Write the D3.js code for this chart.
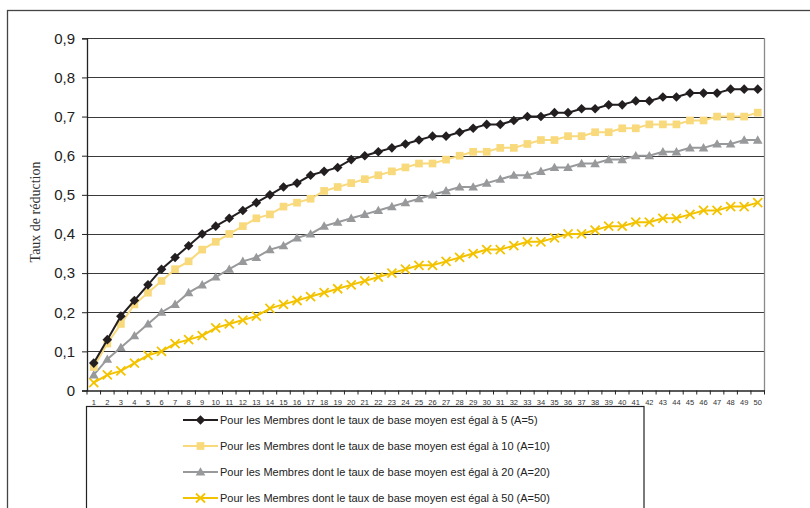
<!DOCTYPE html>
<html><head><meta charset="utf-8">
<script src="https://cdn.jsdelivr.net/npm/d3@7"></script>
<style>
html,body{margin:0;padding:0;background:#fff;}
svg{display:block;}
</style></head>
<body>
<svg id="chart" width="810" height="508"></svg>
<script>
const periods = d3.range(1, 51);
const yTicks = [0, 0.1, 0.2, 0.3, 0.4, 0.5, 0.6, 0.7, 0.8, 0.9];
const yTickLabels = ["0", "0,1", "0,2", "0,3", "0,4", "0,5", "0,6", "0,7", "0,8", "0,9"];
const yTitle = "Taux de réduction";

const seriesNames = [
  "Pour les Membres dont le taux de base moyen est égal à 5 (A=5)",
  "Pour les Membres dont le taux de base moyen est égal à 10 (A=10)",
  "Pour les Membres dont le taux de base moyen est égal à 20 (A=20)",
  "Pour les Membres dont le taux de base moyen est égal à 50 (A=50)"
];
const valuesA5 = [0.07,0.13,0.19,0.23,0.27,0.31,0.34,0.37,0.40,0.42,0.44,0.46,0.48,0.50,0.52,0.53,0.55,0.56,
  0.57,0.59,0.60,0.61,0.62,0.63,0.64,0.65,0.65,0.66,0.67,0.68,0.68,0.69,0.70,0.70,
  0.71,0.71,0.72,0.72,0.73,0.73,0.74,0.74,0.75,0.75,0.76,0.76,0.76,0.77,0.77,0.77];
const valuesA10 = [0.06,0.12,0.17,0.22,0.25,0.28,0.31,0.33,0.36,0.38,0.40,0.42,0.44,0.45,0.47,0.48,
  0.49,0.51,0.52,0.53,0.54,0.55,0.56,0.57,0.58,0.58,0.59,0.60,0.61,0.61,0.62,0.62,0.63,0.64,
  0.64,0.65,0.65,0.66,0.66,0.67,0.67,0.68,0.68,0.68,0.69,0.69,0.70,0.70,0.70,0.71];
const valuesA20 = [0.04,0.08,0.11,0.14,0.17,0.20,0.22,0.25,0.27,0.29,0.31,0.33,0.34,0.36,0.37,0.39,
  0.40,0.42,0.43,0.44,0.45,0.46,0.47,0.48,0.49,0.50,0.51,0.52,0.52,0.53,0.54,0.55,0.55,0.56,
  0.57,0.57,0.58,0.58,0.59,0.59,0.60,0.60,0.61,0.61,0.62,0.62,0.63,0.63,0.64,0.64];
const valuesA50 = [0.02,0.04,0.05,0.07,0.09,0.10,0.12,0.13,0.14,0.16,0.17,0.18,0.19,0.21,0.22,0.23,
  0.24,0.25,0.26,0.27,0.28,0.29,0.30,0.31,0.32,0.32,0.33,0.34,0.35,0.36,0.36,0.37,0.38,0.38,
  0.39,0.40,0.40,0.41,0.42,0.42,0.43,0.43,0.44,0.44,0.45,0.46,0.46,0.47,0.47,0.48];

const seriesColors = ["#231f20", "#f8d97c", "#98999b", "#f3c300"];
const seriesMarkers = ["diamond", "square", "triangle", "cross"];
const allValues = [valuesA5, valuesA10, valuesA20, valuesA50];

const svg = d3.select("#chart");
const L = 87, R = 764.5, T = 38.3, B = 390.5;

const x = d3.scaleBand().domain(periods).range([L, R]).padding(0);
const y = d3.scaleLinear().domain([0, 0.9]).range([B, T]);

// outer frame
svg.append("rect").attr("x", 7.5).attr("y", 10.5).attr("width", 840).attr("height", 600)
  .attr("fill", "none").attr("stroke", "#444").attr("stroke-width", 1.3);

// gridlines
svg.append("g").selectAll("line").data(yTicks.filter(d => d > 0)).join("line")
  .attr("x1", L).attr("x2", R)
  .attr("y1", d => Math.round(y(d)) + 0.5).attr("y2", d => Math.round(y(d)) + 0.5)
  .attr("stroke", "#3a3a3a").attr("stroke-width", 1);

// right border
svg.append("line").attr("x1", R).attr("x2", R).attr("y1", T).attr("y2", B)
  .attr("stroke", "#8a8a8a").attr("stroke-width", 1.3);

// Y axis
const yAxis = d3.axisLeft(y).tickValues(yTicks).tickSize(5).tickPadding(7)
  .tickFormat((d, i) => yTickLabels[i]);
const gy = svg.append("g").attr("transform", `translate(${L},0)`).call(yAxis);
gy.select(".domain").attr("stroke", "#222").attr("stroke-width", 1.3);
gy.selectAll(".tick line").attr("stroke", "#222");
gy.selectAll(".tick text").attr("font-family", "Liberation Sans, Arial, sans-serif")
  .attr("font-size", 15).attr("fill", "#222");

// X axis
const xAxis = d3.axisBottom(x).tickSize(0).tickPadding(9);
const gx = svg.append("g").attr("transform", `translate(0,${B})`).call(xAxis);
gx.select(".domain").attr("stroke", "#222").attr("stroke-width", 1.3);
gx.selectAll(".tick text").attr("font-family", "Liberation Sans, Arial, sans-serif")
  .attr("font-size", 7.5).attr("fill", "#333");
// tick marks at band boundaries
const bounds = periods.map(p => x(p)).concat([x(periods[periods.length - 1]) + x.bandwidth()]);
svg.append("g").selectAll("line").data(bounds).join("line")
  .attr("x1", d => d).attr("x2", d => d).attr("y1", B).attr("y2", B + 4)
  .attr("stroke", "#222").attr("stroke-width", 1);

// Y title
svg.append("text").attr("transform", `translate(40,212) rotate(-90)`)
  .attr("text-anchor", "middle").attr("font-family", "Liberation Serif, Times New Roman, serif")
  .attr("font-size", 14).attr("fill", "#333").text(yTitle);

function drawMarker(g, type, color, size) {
  const s = size;
  if (type === "diamond") {
    g.append("path").attr("d", `M0,${-s}L${s},0L0,${s}L${-s},0Z`).attr("fill", color);
  } else if (type === "square") {
    g.append("rect").attr("x", -s * 0.8).attr("y", -s * 0.8).attr("width", s * 1.6).attr("height", s * 1.6).attr("fill", color);
  } else if (type === "triangle") {
    g.append("path").attr("d", `M0,${-s}L${s},${s * 0.75}L${-s},${s * 0.75}Z`).attr("fill", color);
  } else {
    g.append("path").attr("d", `M${-s},${-s}L${s},${s}M${-s},${s}L${s},${-s}`)
      .attr("stroke", color).attr("stroke-width", 1.8).attr("fill", "none");
  }
}

const line = d3.line().x((d, i) => x(periods[i]) + x.bandwidth() / 2).y(d => y(d));
const drawOrder = [3, 2, 1, 0];
drawOrder.forEach(k => {
  const g = svg.append("g");
  g.append("path").datum(allValues[k]).attr("d", line).attr("fill", "none")
    .attr("stroke", seriesColors[k]).attr("stroke-width", 2);
  allValues[k].forEach((v, i) => {
    const m = g.append("g").attr("transform", `translate(${x(periods[i]) + x.bandwidth() / 2},${y(v)})`);
    drawMarker(m, seriesMarkers[k], seriesColors[k], k === 3 ? 4.5 : 4.8);
  });
});

// Legend
svg.append("rect").attr("x", 86.5).attr("y", 406.5).attr("width", 557.5).attr("height", 200)
  .attr("fill", "#fff").attr("stroke", "#222").attr("stroke-width", 1.2);
const legendRows = [420, 446, 472, 498];
seriesNames.forEach((name, k) => {
  const gy0 = legendRows[k];
  const g = svg.append("g");
  g.append("line").attr("x1", 183).attr("x2", 218).attr("y1", gy0).attr("y2", gy0)
    .attr("stroke", seriesColors[k]).attr("stroke-width", 2);
  const m = g.append("g").attr("transform", `translate(200.5,${gy0})`);
  drawMarker(m, seriesMarkers[k], seriesColors[k], k === 3 ? 4.5 : 4.8);
  g.append("text").attr("x", 220).attr("y", gy0 + 4).attr("font-family", "Liberation Sans, Arial, sans-serif")
    .attr("font-size", 11).attr("fill", "#222").text(name);
});
</script>
</body></html>
